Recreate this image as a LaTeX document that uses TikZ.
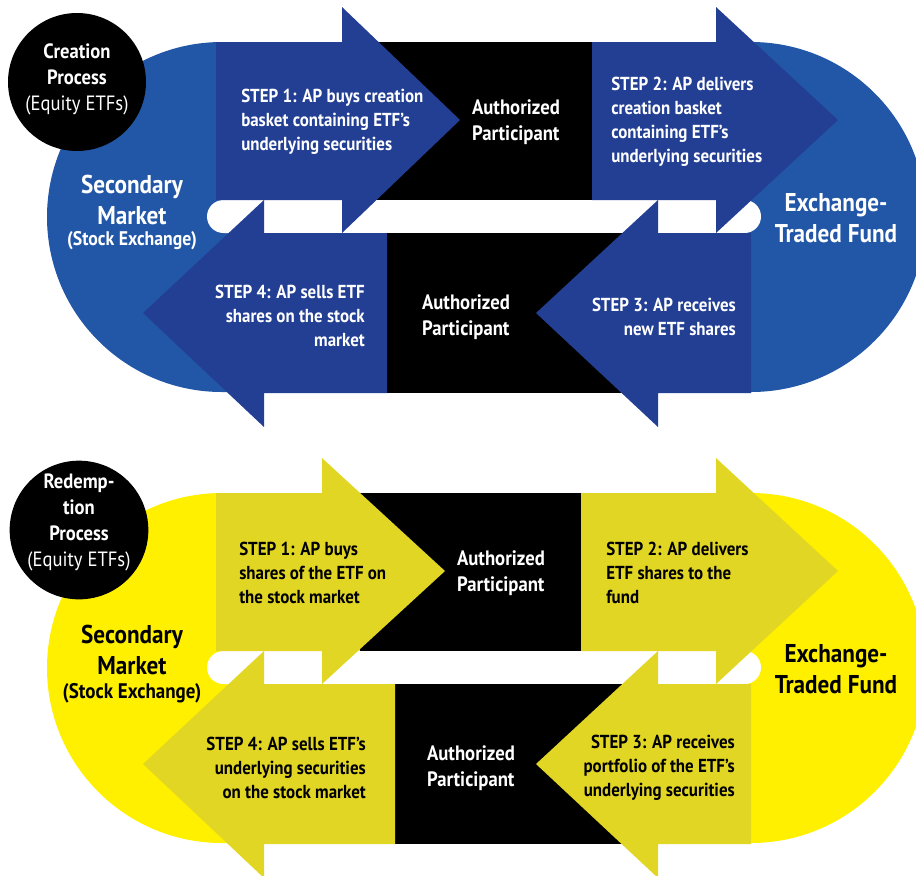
\documentclass[tikz,border=0pt]{standalone}
\usepackage{fontspec}
\setmainfont{PT Sans}[FakeStretch=0.9]
\definecolor{blueL}{RGB}{34,87,167}
\definecolor{blueD}{RGB}{35,63,148}
\definecolor{yelL}{RGB}{255,240,0}
\definecolor{yelD}{RGB}{226,214,37}
\tikzset{
  steptxt/.style={font=\bfseries\fontsize{14.1}{18}\selectfont, inner sep=0pt},
  bigtxt/.style={font=\bfseries\fontsize{19.3}{23}\selectfont, inner sep=0pt, align=center},
  subtxt/.style={font=\bfseries\fontsize{14.8}{18}\selectfont, inner sep=0pt},
  circtxt/.style={font=\bfseries\fontsize{15.5}{19.5}\selectfont, inner sep=0pt, align=center, text=white},
  aptxt/.style={font=\bfseries\fontsize{15.6}{19.5}\selectfont, inner sep=0pt, align=left, text=white},
  stadium/.style={rounded corners=131.25pt},
  slot/.style={fill=white, rounded corners=12.375pt},
}
\begin{document}
\begin{tikzpicture}[x=0.75pt,y=-0.75pt]
\useasboundingbox (0,0) rectangle (916,875);
% ================= CREATION (blue) =================
\fill[blueL, stadium] (47,42) rectangle (926,392);
\fill[slot] (207,200) rectangle (761,233);
\fill[black] (350,42) rectangle (592,200);
\fill[black] (387,233) rectangle (660,393);
% step 1
\fill[blueD] (216,42) -- (342,42) -- (342,7) -- (460,120) -- (342,233) -- (342,200) -- (216,200) -- cycle;
% step 2
\fill[blueD] (592,42) -- (716,42) -- (716,7) -- (838,120) -- (716,233) -- (716,200) -- (592,200) -- cycle;
% step 4
\fill[blueD] (387,233) -- (264,233) -- (264,200) -- (143,313) -- (264,427) -- (264,393) -- (387,393) -- cycle;
% step 3
\fill[blueD] (751,233) -- (658,233) -- (658,200) -- (536,313) -- (658,427) -- (658,393) -- (751,393) -- cycle;
\fill[black] (77,82) circle[radius=51.75pt];

\node[circtxt] (c1) at (77,79) {Creation\\Process\\{\mdseries (Equity ETFs)}};
\node[bigtxt, text=white] (sm1) at (132,200) {Secondary\\Market};
\node[subtxt, text=white] (se1) at (132,241) {(Stock Exchange)};
\node[bigtxt, text=white] (etf1) at (836,218) {Exchange-\\Traded Fund};
\node[steptxt, text=white, anchor=west, align=left] (s1a) at (241,122) {STEP 1: AP buys creation\\basket containing ETF’s\\underlying securities};
\node[steptxt, text=white, anchor=west, align=left] (s2a) at (611,122) {STEP 2: AP delivers\\creation basket\\containing ETF’s\\underlying securities};
\node[steptxt, text=white, anchor=east, align=right] (s4a) at (365,316) {STEP 4: AP sells ETF\\shares on the stock\\market};
\node[steptxt, text=white, anchor=east, align=right] (s3a) at (736,317) {STEP 3: AP receives\\new ETF shares};
\node[aptxt] (ap1a) at (516,122) {Authorized\\Participant};
\node[aptxt] (ap2a) at (466,317) {Authorized\\Participant};

% ================= REDEMPTION (yellow) =================
\fill[yelL, stadium] (47,493) rectangle (926,843);
\fill[slot] (207,651) rectangle (761,684);
\fill[black] (360,493) rectangle (581,651);
\fill[black] (395,684) rectangle (660,844);
% step 1
\fill[yelD] (216,493) -- (322,493) -- (322,458) -- (445,571) -- (322,684) -- (322,651) -- (216,651) -- cycle;
% step 2
\fill[yelD] (581,493) -- (716,493) -- (716,458) -- (838,571) -- (716,684) -- (716,651) -- (581,651) -- cycle;
% step 4
\fill[yelD] (395,684) -- (264,684) -- (264,651) -- (143,764) -- (264,878) -- (264,844) -- (395,844) -- cycle;
% step 3
\fill[yelD] (751,684) -- (658,684) -- (658,651) -- (536,764) -- (658,878) -- (658,844) -- (751,844) -- cycle;
\fill[black] (79,530) circle[radius=52pt];

\node[circtxt] (c2) at (79,522) {Redemp-\\tion\\Process\\{\mdseries (Equity ETFs)}};
\node[bigtxt, text=black] (sm2) at (132,650) {Secondary\\Market};
\node[subtxt, text=black, font=\bfseries\fontsize{15.8}{18}\selectfont] (se2) at (132,693) {(Stock Exchange)};
\node[bigtxt, text=black] (etf2) at (836,669) {Exchange-\\Traded Fund};
\node[steptxt, text=black, anchor=west, align=left] (s1b) at (239,573) {STEP 1: AP buys\\shares of the ETF on\\the stock market};
\node[steptxt, text=black, anchor=west, align=left] (s2b) at (606,573) {STEP 2: AP delivers\\ETF shares to the\\fund};
\node[steptxt, text=black, anchor=east, align=right] (s4b) at (366,768) {STEP 4: AP sells ETF’s\\underlying securities\\on the stock market};
\node[steptxt, text=black, anchor=east, align=right] (s3b) at (735,768) {STEP 3: AP receives\\portfolio of the ETF’s\\underlying securities};
\node[aptxt] (ap1b) at (501,573) {Authorized\\Participant};
\node[aptxt] (ap2b) at (471,768) {Authorized\\Participant};
\end{tikzpicture}
\end{document}
